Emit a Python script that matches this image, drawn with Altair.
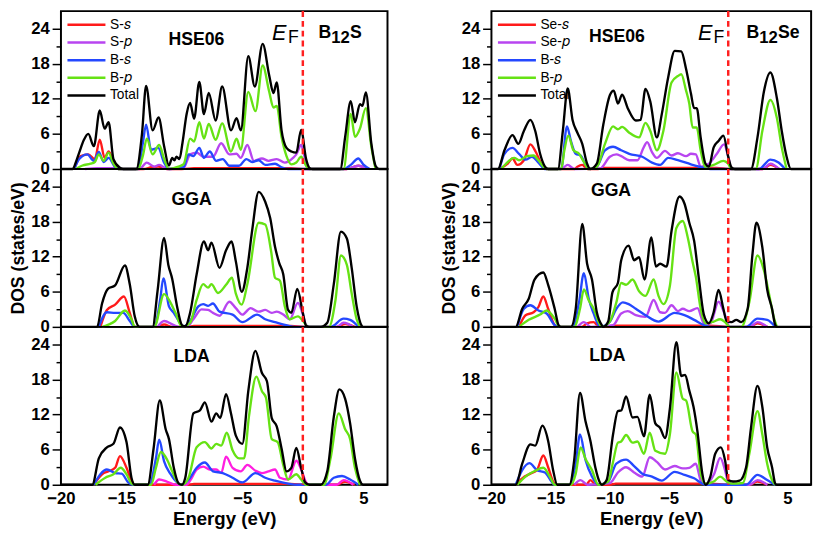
import altair as alt
import pandas as pd

FONT = "Liberation Sans"

# ---------------- axes / labels ----------------
x_ticks = [-20, -15, -10, -5, 0, 5]
y_ticks = [0, 3, 6, 9, 12, 15, 18, 21, 24]
methods = ["HSE06", "GGA", "LDA"]
left_series = ["S-\U0001D460", "S-\U0001D45D", "B-\U0001D460", "B-\U0001D45D", "Total"]
right_series = ["Se-\U0001D460", "Se-\U0001D45D", "B-\U0001D460", "B-\U0001D45D", "Total"]
colors = ["#ff1a1a", "#b845f0", "#2448ff", "#66e214", "#000000"]
colors_lda_left = ["#ff1a1a", "#ff1ee0", "#2448ff", "#66e214", "#000000"]

# ---------------- B12S, HSE06 ----------------
S_HSE_Ss = [(-18.9,0),(-18.36,2.2),(-17.74,2.5),(-17.2,1.7),(-16.79,5.0),(-16.39,1.9),(-16.06,3.0),(-15.52,0.55),(-15.25,0),
            (-13.2,0),(-12.5,0.3),(-11.96,0.4),(-11.2,0),(-10.0,0),(-9.0,0.15),(-1.0,0.15),(0.2,0),
            (3.6,0),(4.59,0.55),(5.26,0)]
S_HSE_Sp = [(-18.0,0),(-17.0,0.15),(-15.5,0.15),(-15.0,0),
            (-13.5,0),(-12.91,1.1),(-12.28,0.4),(-11.88,0.7),(-11.2,0),
            (-9.86,0.2),(-9.32,2.5),(-8.77,2.8),(-8.24,2.1),(-7.43,2.1),(-6.75,4.4),(-6.08,2.5),(-5.48,2.6),(-5.13,1.9),
            (-4.59,4.1),(-4.05,1.4),(-3.38,1.8),(-2.84,1.4),(-2.16,1.7),(-1.49,1.1),(-0.81,1.9),(-0.54,2.5),(-0.14,4.1),
            (0.13,2.2),(0.4,0),(3.6,0),(4.59,0.55),(5.26,0)]
S_HSE_Bs = [(-18.9,0),(-18.49,1.7),(-17.82,2.5),(-17.28,1.4),(-16.87,2.9),(-16.47,1.2),(-16.06,1.9),(-15.52,0.3),(-15.25,0),
            (-13.63,0),(-13.23,4.4),(-12.96,7.6),(-12.55,3.3),(-11.96,3.6),(-11.47,1.1),(-11.07,0),
            (-9.86,0.3),(-9.45,2.5),(-9.05,2.2),(-8.56,3.6),(-8.18,1.9),(-7.7,3.0),(-7.16,1.4),(-6.62,1.7),(-6.08,0.55),
            (-5.27,0.55),(-4.67,1.7),(-4.19,1.2),(-3.65,1.5),(-3.11,0.7),(-2.3,0.9),(-1.76,0.3),(-1.22,0),
            (3.37,0),(3.96,0.7),(4.59,1.8),(4.99,0.8),(5.53,0)]
S_HSE_Bp = [(-18.76,0),(-18.22,0.6),(-17.55,0.9),(-17.2,1.2),(-16.87,2.5),(-16.47,1.4),(-16.06,2.8),(-15.66,0.9),(-15.25,0),
            (-13.63,0),(-13.2,2.5),(-12.9,5.2),(-12.42,2.5),(-11.88,4.1),(-11.47,1.7),(-11.07,0),
            (-10.8,0.1),(-9.86,0.8),(-9.32,5.2),(-8.99,4.7),(-8.56,8.0),(-8.18,5.2),(-7.78,7.7),(-7.21,5.0),(-6.67,7.8),
            (-5.94,3.0),(-5.48,5.2),(-5.13,3.3),(-4.51,13.2),(-3.92,9.9),(-3.32,17.7),(-2.78,13.2),(-2.43,10.5),
            (-2.16,10.8),(-1.76,5.5),(-1.35,2.2),(-0.95,0.8),(-0.54,1.1),(-0.14,2.1),(0.27,0.55),(0.54,0),
            (3.37,0),(3.96,9.4),(4.31,5.5),(4.72,6.9),(5.21,10.4),(5.66,3.9),(6.01,0)]
S_HSE_T = [(-20,0),(-19.03,0),(-18.76,1.2),(-18.49,2.8),(-18.1,5.0),(-17.74,6.0),(-17.28,3.9),(-16.79,10.0),(-16.39,6.9),
           (-16.06,8.0),(-15.66,1.7),(-15.12,0.2),(-14.85,0),(-13.77,0),(-13.3,6.0),(-12.96,14.2),(-12.42,6.6),
           (-11.93,8.8),(-11.47,3.9),(-11.07,0.6),(-10.8,1.9),(-10.62,1.5),(-10.45,2.1),(-10.2,1.7),(-9.95,4.5),
           (-9.6,9.5),(-9.32,11.3),(-8.99,8.6),(-8.56,14.9),(-8.18,9.4),(-7.78,13.0),(-7.21,8.3),(-6.67,14.1),
           (-5.94,6.6),(-5.48,8.7),(-5.13,6.6),(-4.51,19.3),(-3.97,14.1),(-3.32,21.4),(-2.78,16.0),(-2.43,13.0),
           (-2.16,14.8),(-1.76,6.6),(-1.35,3.6),(-0.95,3.0),(-0.54,2.8),(-0.14,6.7),(0.27,1.7),(0.54,0.2),(0.8,0),
           (3.1,0),(3.5,5.5),(3.96,11.6),(4.31,8.0),(4.72,11.1),(4.93,10.8),(5.21,13.1),(5.66,4.4),(6.02,0.5),(6.3,0),(7,0)]

# ---------------- B12S, GGA ----------------
S_GGA_Ss = [(-16.74,0),(-16.2,2.9),(-15.52,3.8),(-14.79,5.2),(-14.31,2.4),(-13.9,0),
            (-12.0,0),(-11.47,0.4),(-10.8,0),(-9.5,0),(-9.0,0.15),(-1.0,0.15),(0.2,0),
            (2.8,0),(3.5,0.5),(4.3,0)]
S_GGA_Sp = [(-12.0,0),(-11.47,1.0),(-10.67,0.3),(-10.2,0),
            (-9.6,0),(-9.05,1.3),(-8.37,3.0),(-7.83,2.9),(-7.43,2.4),(-6.89,1.9),(-6.08,4.3),(-5.54,3.2),(-5.0,2.1),
            (-4.32,3.2),(-3.65,2.6),(-3.11,2.9),(-2.57,2.4),(-2.16,2.6),(-1.62,2.1),(-1.08,1.3),(-0.41,4.1),(0.0,2.1),
            (0.27,0.3),(0.54,0),(2.8,0),(3.37,0.7),(4.18,0)]
S_GGA_Bs = [(-16.87,0),(-16.2,2.5),(-15.52,2.4),(-14.85,2.4),(-14.31,1.0),(-13.9,0),
            (-12.28,0),(-11.8,4.6),(-11.53,8.3),(-11.07,3.5),(-10.67,2.4),(-10.26,1.0),(-9.91,0),
            (-9.32,1.0),(-8.64,3.5),(-8.24,3.9),(-7.83,3.6),(-7.43,4.0),(-6.89,2.6),(-5.81,2.1),(-5.0,0.8),(-3.78,2.1),
            (-3.11,1.3),(-2.3,0.8),(-1.22,0.2),(-0.68,0),(2.29,0),(3.37,1.4),(3.91,1.2),(4.59,0)]
S_GGA_Bp = [(-16.6,0),(-15.52,1.0),(-14.71,2.8),(-14.17,1.3),(-13.9,0),
            (-12.28,0),(-11.47,5.6),(-10.93,4.1),(-10.53,2.4),(-9.99,0),
            (-9.32,0.7),(-8.78,4.6),(-8.24,7.3),(-7.83,6.7),(-7.56,7.3),(-7.02,5.8),(-6.35,7.2),(-5.86,8.4),(-5.54,5.7),
            (-5.05,3.8),(-4.59,7.3),(-3.65,17.8),(-3.11,17.5),(-2.62,12.9),(-2.3,8.4),(-1.89,7.9),(-1.49,3.5),
            (-1.08,1.3),(-0.41,1.8),(0.13,0.7),(0.4,0),(2.16,0),(2.7,4.6),(3.15,12.2),(3.64,10.6),(4.04,5.7),(4.45,1.3),(4.72,0)]
S_GGA_T = [(-20,0),(-17.01,0),(-16.6,4.0),(-16.12,6.5),(-15.52,7.1),(-14.71,10.5),(-14.31,7.3),(-13.9,1.8),(-13.5,0),
           (-12.42,0),(-12.01,6.2),(-11.47,15.2),(-11.12,10.6),(-10.8,8.2),(-10.4,3.5),(-9.99,0.3),(-9.72,0.1),
           (-9.32,2.4),(-8.78,9.0),(-8.18,14.6),(-7.83,13.1),(-7.56,14.4),(-6.89,10.1),(-6.35,13.1),(-5.89,14.6),
           (-5.54,11.2),(-5.05,6.0),(-4.59,10.1),(-4.19,16.5),(-3.65,23.1),(-3.11,21.4),(-2.7,18.6),(-2.3,13.7),
           (-1.95,10.9),(-1.62,9.0),(-1.22,2.9),(-0.95,2.4),(-0.46,6.5),(0.0,2.4),(0.27,0.2),(0.54,0),
           (1.48,0),(2.02,0.7),(2.56,7.3),(3.15,16.3),(3.64,15.1),(4.04,10.1),(4.45,3.5),(4.86,0.2),(4.99,0),(7,0)]

# ---------------- B12S, LDA ----------------
S_LDA_Ss = [(-17.28,0),(-16.6,1.8),(-16.06,2.3),(-15.52,2.9),(-15.12,4.9),(-14.58,2.9),(-14.17,0.7),(-13.9,0),
            (-9.5,0),(-9.0,0.15),(-1.0,0.15),(0.2,0),(2.8,0),(3.5,0.5),(4.3,0)]
S_LDA_Sp = [(-12.3,0),(-11.88,0.9),(-11.2,0.5),(-10.5,0),
            (-9.6,0),(-9.32,0.7),(-8.78,2.6),(-8.24,3.1),(-7.7,2.6),(-7.16,2.6),(-6.75,2.0),(-6.35,4.8),(-5.81,2.9),
            (-5.13,2.3),(-4.59,3.4),(-3.92,2.4),(-3.38,2.0),(-2.84,2.3),(-2.3,2.6),(-1.89,1.2),(-1.22,0.9),(-0.54,4.1),
            (-0.08,2.3),(0.27,0.4),(0.54,0),(2.8,0),(3.37,0.8),(4.18,0)]
S_LDA_Bs = [(-17.28,0),(-16.74,1.8),(-16.2,2.6),(-15.52,2.0),(-14.98,1.9),(-14.44,0.4),(-14.04,0),
            (-12.69,0),(-12.15,4.5),(-11.88,7.7),(-11.47,4.0),(-10.93,1.8),(-10.4,0.4),(-9.99,0),
            (-9.32,1.2),(-8.78,2.9),(-8.1,3.8),(-7.43,2.3),(-6.62,2.0),(-5.81,1.2),(-5.0,0.4),(-3.92,2.0),(-3.11,1.2),
            (-2.3,0.7),(-1.22,0.2),(-0.41,0),(1.89,0),(2.56,1.2),(3.24,1.5),(3.91,0.9),(4.59,0)]
S_LDA_Bp = [(-17.14,0),(-16.33,1.2),(-15.66,1.8),(-15.06,2.9),(-14.58,1.8),(-14.17,0.2),(-13.9,0),
            (-12.55,0),(-12.15,2.9),(-11.74,5.6),(-11.2,4.2),(-10.8,2.3),(-10.26,0.2),(-9.99,0),
            (-9.45,1.2),(-8.78,6.4),(-8.1,7.3),(-7.56,6.2),(-7.16,7.0),(-6.75,6.7),(-6.29,8.9),(-5.81,5.9),(-5.27,4.5),
            (-4.86,4.5),(-4.46,11.6),(-3.84,18.5),(-3.38,16.0),(-3.05,14.9),(-2.57,7.8),(-2.08,7.3),(-1.62,3.4),
            (-1.22,0.9),(-0.54,1.8),(-0.14,0.9),(0.27,0),(1.75,0),(2.29,4.5),(2.97,12.2),(3.5,9.5),(3.91,7.8),(4.31,2.9),(4.72,0)]
S_LDA_T = [(-20,0),(-17.41,0),(-16.87,4.5),(-16.2,6.4),(-15.66,7.0),(-15.12,9.8),(-14.58,7.3),(-14.17,1.2),(-13.9,0),
           (-12.82,0),(-12.34,6.2),(-11.83,14.4),(-11.34,9.5),(-11.07,7.8),(-10.67,2.9),(-10.26,0.2),(-9.99,0),
           (-9.72,1.2),(-9.05,12.2),(-8.51,12.7),(-8.1,14.1),(-7.56,10.8),(-7.16,12.2),(-6.83,11.4),(-6.35,15.5),
           (-5.94,12.2),(-5.54,8.4),(-5.0,7.0),(-4.51,16.0),(-3.92,22.9),(-3.38,19.1),(-2.97,17.7),(-2.57,11.4),
           (-2.16,10.0),(-1.76,6.2),(-1.35,2.3),(-0.95,2.9),(-0.54,6.3),(-0.14,2.9),(0.19,0.4),(0.54,0),
           (1.48,0),(2.02,2.3),(2.56,11.6),(3.02,16.3),(3.5,14.7),(3.91,10.5),(4.31,4.5),(4.72,0.7),(4.99,0),(7,0)]

# ---------------- B12Se, HSE06 ----------------
Se_HSE_Ss = [(-19.32,0),(-18.63,0.9),(-18.22,1.8),(-17.81,0.7),(-17.26,1.5),(-16.71,4.2),(-16.25,2.9),(-15.75,0.7),(-15.34,0),
             (-13.0,0),(-12.74,0.4),(-12.33,0.7),(-11.9,0),(-11.0,0),(-10.5,0.2),(-1.0,0.2),(0.2,0),
             (2.9,0),(3.56,0.7),(4.3,0)]
Se_HSE_Sp = [(-14.0,0),(-13.56,0.7),(-13.0,0),
             (-10.82,0.1),(-10.0,2.1),(-9.45,2.5),(-9.04,2.2),(-8.36,1.5),(-7.67,1.5),(-7.12,3.8),(-6.85,4.6),(-6.44,2.9),
             (-6.03,1.9),(-5.34,3.1),(-4.79,2.3),(-4.25,2.7),(-3.56,2.2),(-3.15,2.6),(-2.74,2.5),(-2.33,0.4),(-1.64,0.9),
             (-0.96,2.6),(-0.36,4.2),(0.0,2.1),(0.27,0),(2.9,0),(3.56,0.9),(4.3,0)]
Se_HSE_Bs = [(-19.32,0),(-18.9,2.6),(-18.22,3.6),(-17.67,2.6),(-17.12,1.6),(-16.58,2.1),(-16.03,1.1),(-15.48,0),
             (-14.11,0),(-13.62,7.3),(-13.29,4.8),(-12.88,2.6),(-12.47,2.3),(-12.05,0.7),(-11.78,0),
             (-11.1,0.4),(-10.41,3.2),(-9.73,3.8),(-9.04,3.2),(-8.36,2.6),(-7.26,2.1),(-6.44,1.1),(-5.75,0.7),(-5.07,1.9),
             (-4.25,1.5),(-3.15,0.8),(-2.05,0.2),(-1.51,0),(2.6,0),(3.56,1.6),(4.25,1.1),(4.79,0)]
Se_HSE_Bp = [(-19.18,0),(-18.77,0.9),(-18.08,1.9),(-17.67,1.5),(-16.99,2.2),(-16.44,2.3),(-16.03,1.5),(-15.62,0.4),(-15.34,0),
             (-14.11,0),(-13.84,3.2),(-13.51,5.7),(-13.07,3.2),(-12.6,2.6),(-12.19,1.2),(-11.78,0),
             (-11.1,0.4),(-10.41,4.3),(-9.73,7.3),(-9.32,6.8),(-8.96,7.2),(-8.36,6.2),(-7.53,5.4),(-6.99,7.9),(-6.58,6.5),
             (-6.03,3.2),(-5.48,6.5),(-4.79,14.8),(-4.25,15.9),(-3.97,16.2),(-3.56,13.4),(-3.29,11.2),(-3.01,7.1),
             (-2.66,7.1),(-2.33,3.2),(-1.92,0.4),(-1.23,0.7),(-0.41,1.4),(0.0,0.9),(0.27,0),
             (2.33,0),(2.88,6.5),(3.56,11.8),(4.11,8.7),(4.52,3.7),(4.93,0)]
Se_HSE_T = [(-20,0),(-19.45,0),(-18.9,3.2),(-18.22,5.8),(-17.73,4.3),(-17.26,6.5),(-16.71,8.4),(-16.3,6.5),(-15.89,2.6),
            (-15.48,0.4),(-15.21,0),(-14.38,0),(-13.97,6.5),(-13.56,13.8),(-13.15,8.4),(-12.74,6.2),(-12.33,4.3),
            (-11.92,0.9),(-11.64,0),(-11.1,0.9),(-10.55,7.6),(-10.0,12.6),(-9.67,13.4),(-9.32,11.2),(-8.96,12.7),
            (-8.49,10.4),(-7.81,8.3),(-7.4,8.4),(-6.99,13.7),(-6.58,11.5),(-6.03,5.4),(-5.62,9.3),(-5.07,15.7),
            (-4.52,20.2),(-3.97,20.1),(-3.56,17.1),(-3.15,12.9),(-2.88,10.4),(-2.66,10.4),(-2.33,5.4),(-1.92,0.9),
            (-1.64,0.4),(-1.23,3.7),(-0.82,4.8),(-0.41,5.7),(0.0,2.1),(0.27,0.3),(0.55,0),
            (1.92,0),(2.47,5.4),(3.01,13.2),(3.56,16.5),(4.11,12.1),(4.52,6.5),(4.93,2.1),(5.29,0),(7,0)]

# ---------------- B12Se, GGA ----------------
Se_GGA_Ss = [(-17.67,0),(-17.12,2.0),(-16.44,2.5),(-16.03,3.4),(-15.62,5.2),(-15.21,3.1),(-14.66,0.3),(-14.38,0),
             (-12.4,0),(-11.92,0.6),(-11.37,0.8),(-10.9,0),(-10.0,0),(-9.5,0.2),(-1.5,0.2),(0.0,0),
             (1.8,0),(2.47,0.6),(3.3,0)]
Se_GGA_Sp = [(-12.7,0),(-12.19,0.8),(-11.6,0),
             (-9.73,0.3),(-9.04,2.3),(-8.49,2.7),(-7.81,2.0),(-6.99,1.7),(-6.3,4.6),(-5.75,2.5),(-5.34,2.4),(-4.79,3.7),
             (-4.25,2.7),(-3.84,3.1),(-3.29,2.7),(-2.6,3.2),(-2.05,0.6),(-1.51,0.6),(-0.82,4.3),(-0.27,2.0),(0.14,0),
             (1.8,0),(2.47,0.8),(3.3,0)]
Se_GGA_Bs = [(-17.81,0),(-17.26,3.1),(-16.71,3.7),(-16.03,2.8),(-15.34,2.3),(-14.66,0.3),(-14.38,0),
             (-13.15,0),(-12.6,4.2),(-12.19,9.2),(-11.78,4.8),(-11.37,2.3),(-10.82,0),
             (-10.0,0.9),(-9.45,3.1),(-8.9,4.2),(-8.41,3.9),(-7.81,3.1),(-6.99,2.0),(-5.89,0.9),(-4.52,2.4),(-3.7,2.0),
             (-2.88,1.2),(-2.05,0.3),(-1.51,0),(1.51,0),(2.47,1.4),(3.29,1.2),(3.97,0)]
Se_GGA_Bp = [(-17.67,0),(-16.85,1.2),(-15.89,2.1),(-15.34,2.8),(-14.66,1.4),(-14.25,0),
             (-13.01,0),(-12.52,3.1),(-12.19,6.4),(-11.78,4.5),(-11.37,3.1),(-10.96,0.9),(-10.68,0),
             (-10.0,0.9),(-9.45,4.2),(-9.04,7.5),(-8.63,7.2),(-8.08,8.1),(-7.53,6.1),(-6.99,5.3),(-6.3,8.1),(-5.89,5.3),
             (-5.48,3.9),(-4.93,7.0),(-4.38,16.9),(-3.84,18.1),(-3.42,15.3),(-3.01,11.1),(-2.74,8.6),(-2.33,3.1),
             (-1.92,0.6),(-1.23,0.9),(-0.68,1.3),(-0.27,0.8),(0.14,0),
             (1.1,0),(1.78,4.2),(2.47,12.2),(3.01,9.7),(3.42,5.9),(3.84,1.7),(4.11,0)]
Se_GGA_T = [(-20,0),(-17.95,0),(-17.4,3.1),(-16.85,4.8),(-16.36,8.1),(-15.62,9.3),(-15.21,7.2),(-14.66,3.1),(-14.33,0.3),
            (-14.11,0),(-13.29,0),(-12.88,3.1),(-12.33,17.6),(-11.92,10.8),(-11.51,8.1),(-11.1,2.5),(-10.68,0.3),
            (-10.55,0),(-10.14,0.9),(-9.78,5.9),(-9.32,7.5),(-9.04,11.4),(-8.41,13.9),(-7.95,11.4),(-7.53,11.9),
            (-7.07,8.1),(-6.49,15.3),(-6.11,10.3),(-5.75,10.8),(-5.21,10.3),(-4.79,16.4),(-4.11,22.3),(-3.7,21.1),
            (-3.29,17.8),(-2.88,14.7),(-2.47,8.1),(-2.05,2.0),(-1.64,0.6),(-1.23,2.5),(-0.82,6.3),(-0.41,3.1),
            (-0.14,1.0),(0.27,0.8),(0.68,1.2),(1.1,0.8),(1.64,3.1),(2.05,12.5),(2.38,17.8),(2.88,13.6),(3.29,6.4),
            (3.7,3.1),(3.97,0.3),(4.11,0),(7,0)]

# ---------------- B12Se, LDA ----------------
Se_LDA_Ss = [(-17.95,0),(-17.4,1.1),(-16.71,1.9),(-16.16,2.5),(-15.62,5.0),(-15.21,3.0),(-14.79,0.55),(-14.52,0),
             (-12.0,0),(-11.64,0.8),(-11.2,0),(-10.0,0),(-9.5,0.2),(-1.5,0.2),(0.0,0),
             (1.8,0),(2.47,0.55),(3.3,0)]
Se_LDA_Sp = [(-13.0,0),(-12.47,0.8),(-11.9,0),
             (-10.0,0.28),(-9.32,2.1),(-8.63,3.0),(-7.95,2.1),(-7.26,1.4),(-6.63,4.7),(-6.03,3.9),(-5.34,2.6),(-4.52,3.2),
             (-3.84,2.8),(-3.29,2.9),(-2.74,3.6),(-2.33,0.8),(-1.92,0.17),(-1.18,1.9),(-0.68,4.6),(-0.27,2.5),(0.0,0.4),
             (0.27,0),(1.8,0),(2.47,0.8),(3.3,0)]
Se_LDA_Bs = [(-17.95,0),(-17.4,2.5),(-16.79,3.7),(-16.16,2.5),(-15.48,2.1),(-14.93,0.55),(-14.66,0),
             (-13.42,0),(-12.88,3.6),(-12.52,8.6),(-12.05,4.2),(-11.51,1.4),(-10.96,0),
             (-10.14,0.55),(-9.45,3.6),(-8.63,4.3),(-7.95,3.2),(-7.26,1.9),(-6.44,1.4),(-5.62,0.7),(-4.52,2.2),(-3.7,1.7),
             (-2.88,1.1),(-2.19,0.2),(-1.78,0),(1.51,0),(2.47,1.7),(3.29,0.8),(3.97,0)]
Se_LDA_Bp = [(-17.81,0),(-17.12,1.4),(-16.3,2.4),(-15.62,2.9),(-15.07,1.4),(-14.66,0),
             (-13.29,0),(-12.88,1.9),(-12.47,6.4),(-12.05,4.4),(-11.51,2.5),(-10.96,0),
             (-10.14,0.55),(-9.73,3.9),(-9.32,7.2),(-9.04,7.4),(-8.63,8.5),(-8.08,7.2),(-7.67,7.4),(-7.12,5.3),(-6.63,8.9),
             (-6.16,5.8),(-5.34,5.3),(-4.93,8.6),(-4.38,19.2),(-3.84,14.7),(-3.56,14.4),(-3.01,9.1),(-2.74,8.6),
             (-2.33,1.9),(-1.92,0.2),(-1.23,0.55),(-0.68,1.4),(-0.14,0.55),(0.27,0.2),(1.23,0.3),(1.78,5.3),(2.47,12.6),
             (2.88,8.6),(3.29,3.6),(3.7,0.8),(3.97,0)]
Se_LDA_T = [(-20,0),(-17.95,0),(-17.4,3.6),(-16.71,6.9),(-16.3,6.7),(-15.7,10.1),(-15.21,7.5),(-14.79,2.5),(-14.44,0),
            (-13.42,0),(-13.01,4.2),(-12.52,15.7),(-12.05,10.8),(-11.64,7.5),(-11.23,3.0),(-10.82,0.3),(-10.68,0),
            (-10.27,0.8),(-9.73,8.6),(-9.32,12.6),(-9.04,12.7),(-8.63,15.1),(-8.08,11.5),(-7.67,11.6),(-7.12,8.3),
            (-6.63,15.4),(-6.16,10.5),(-5.75,9.7),(-5.34,8.0),(-4.93,13.0),(-4.38,24.4),(-3.97,18.6),(-3.64,18.8),
            (-3.29,16.1),(-2.93,13.3),(-2.6,9.1),(-2.19,1.9),(-1.92,0),(-1.51,1.4),(-1.1,5.3),(-0.63,6.4),(-0.27,4.2),
            (0.0,0.8),(0.41,0.55),(0.96,0.7),(1.51,3.0),(1.92,9.7),(2.47,16.9),(2.88,13.3),(3.29,6.4),(3.7,3.0),
            (3.97,0.2),(4.11,0),(7,0)]

left_curves = [[S_HSE_Ss, S_HSE_Sp, S_HSE_Bs, S_HSE_Bp, S_HSE_T],
               [S_GGA_Ss, S_GGA_Sp, S_GGA_Bs, S_GGA_Bp, S_GGA_T],
               [S_LDA_Ss, S_LDA_Sp, S_LDA_Bs, S_LDA_Bp, S_LDA_T]]
right_curves = [[Se_HSE_Ss, Se_HSE_Sp, Se_HSE_Bs, Se_HSE_Bp, Se_HSE_T],
                [Se_GGA_Ss, Se_GGA_Sp, Se_GGA_Bs, Se_GGA_Bp, Se_GGA_T],
                [Se_LDA_Ss, Se_LDA_Sp, Se_LDA_Bs, Se_LDA_Bp, Se_LDA_T]]

# annotation anchors (energy, DOS)
left_method_pos = [(-8.8, 22.0), (-9.2, 21.6), (-9.2, 21.9)]
right_method_pos = [(-9.4, 22.5), (-9.9, 23.2), (-10.2, 22.0)]
ef_pos = [(-1.95, 23.3), (-0.78, 22.4)]
left_compound = ("B", "12", "S", 1.3, 23.2)
right_compound = ("B", "12", "Se", 1.55, 23.2)

PANEL_H = 161


def make_panel(curves, names, cols, method, mpos, idx, width, compound):
    rows = []
    for name, pts in zip(names, curves):
        for e, d in pts:
            rows.append({"E": e, "DOS": d, "series": name})
    df = pd.DataFrame(rows)

    xs = alt.Scale(domain=[-20, 7], nice=False, zero=False)
    ys = alt.Scale(domain=[0, 27], nice=False, zero=False)
    if idx == 2:
        xaxis = alt.Axis(values=x_ticks, title="Energy (eV)", ticks=False, domain=False,
                         labelFont=FONT, labelFontSize=17, labelFontWeight="bold", labelColor="black",
                         labelPadding=6, titleFont=FONT, titleFontSize=19, titleFontWeight="bold",
                         titleColor="black", titlePadding=4, labelFlush=False)
    else:
        xaxis = None
    yaxis = alt.Axis(values=y_ticks, title="DOS (states/eV)" if idx == 1 else None,
                     labelExpr="datum.value % 6 === 0 ? datum.label : ''",
                     tickSize={"condition": {"test": "datum.value % 6 === 0", "value": 9}, "value": 5},
                     tickColor="black", tickWidth=1.5, domain=False,
                     labelFont=FONT, labelFontSize=17, labelFontWeight="bold", labelColor="black",
                     labelPadding=3, titleFont=FONT, titleFontSize=18, titleFontWeight="bold",
                     titleColor="black", titlePadding=3, labelFlush=False)
    x = alt.X("E:Q", scale=xs, axis=xaxis)
    y = alt.Y("DOS:Q", scale=ys, axis=yaxis)
    if idx == 0:
        legend = alt.Legend(orient="none", legendX=5, legendY=6, title=None, symbolType="M-1,0L1,0",
                            symbolSize=1500, symbolStrokeWidth=2.5, labelFont=FONT, labelFontSize=14,
                            labelColor="black", clipHeight=16, rowPadding=2, labelOffset=3, padding=0)
    else:
        legend = None
    color = alt.Color("series:N", scale=alt.Scale(domain=names, range=cols), legend=legend)

    layers = []
    for s in names:
        layers.append(
            alt.Chart(df).transform_filter(alt.datum.series == s)
            .mark_line(interpolate="monotone", strokeWidth=2.4)
            .encode(x=x, y=y, color=color)
        )
    mdf = pd.DataFrame({"E": [mpos[0]], "DOS": [mpos[1]], "t": [method]})
    layers.append(alt.Chart(mdf).mark_text(font=FONT, fontSize=18, fontWeight="bold", color="black")
                  .encode(x=x, y=y, text="t:N"))
    if idx == 0:
        edf = pd.DataFrame({"E": [ef_pos[0][0]], "DOS": [ef_pos[0][1]], "t": ["E"]})
        fdf = pd.DataFrame({"E": [ef_pos[1][0]], "DOS": [ef_pos[1][1]], "t": ["F"]})
        layers.append(alt.Chart(edf).mark_text(font=FONT, fontSize=22, fontStyle="italic", color="black")
                      .encode(x=x, y=y, text="t:N"))
        layers.append(alt.Chart(fdf).mark_text(font=FONT, fontSize=18, color="black")
                      .encode(x=x, y=y, text="t:N"))
        b, sub, el, ce, cd = compound
        cdf = pd.DataFrame({"E": [ce], "DOS": [cd], "a": [b], "b": [sub], "c": [el]})
        layers.append(alt.Chart(cdf).mark_text(font=FONT, fontSize=18, fontWeight="bold", align="left",
                                               color="black").encode(x=x, y=y, text="a:N"))
        layers.append(alt.Chart(cdf).mark_text(font=FONT, fontSize=17, fontWeight="bold", align="left",
                                               dx=13, dy=5, color="black").encode(x=x, y=y, text="b:N"))
        layers.append(alt.Chart(cdf).mark_text(font=FONT, fontSize=18, fontWeight="bold", align="left",
                                               dx=32, color="black").encode(x=x, y=y, text="c:N"))
    rdf = pd.DataFrame({"E": [0]})
    layers.append(alt.Chart(rdf).mark_rule(color="#ff2020", strokeDash=[6, 4], strokeWidth=2.5)
                  .encode(x=x))
    return alt.layer(*layers).properties(width=width, height=PANEL_H)


def make_column(curves_all, names, method_pos, width, compound, lda_cols):
    panels = []
    for i, m in enumerate(methods):
        cols = lda_cols if i == 2 else colors
        panels.append(make_panel(curves_all[i], names, cols, m, method_pos[i], i, width, compound))
    return (alt.vconcat(*panels, spacing=0)
            .resolve_scale(color="independent")
            .properties(bounds="flush"))


left = make_column(left_curves, left_series, left_method_pos, 333, left_compound, colors_lda_left)
right = make_column(right_curves, right_series, right_method_pos, 326, right_compound, colors)

chart = (
    alt.hconcat(left, right, spacing=47)
    .resolve_scale(color="independent")
    .properties(padding={"left": 1, "top": -5, "right": 0, "bottom": -3})
    .configure_view(stroke="black", strokeWidth=2)
    .configure_axis(grid=False)
)

chart.save("out.html", embed_options={"renderer": "svg", "actions": False})
